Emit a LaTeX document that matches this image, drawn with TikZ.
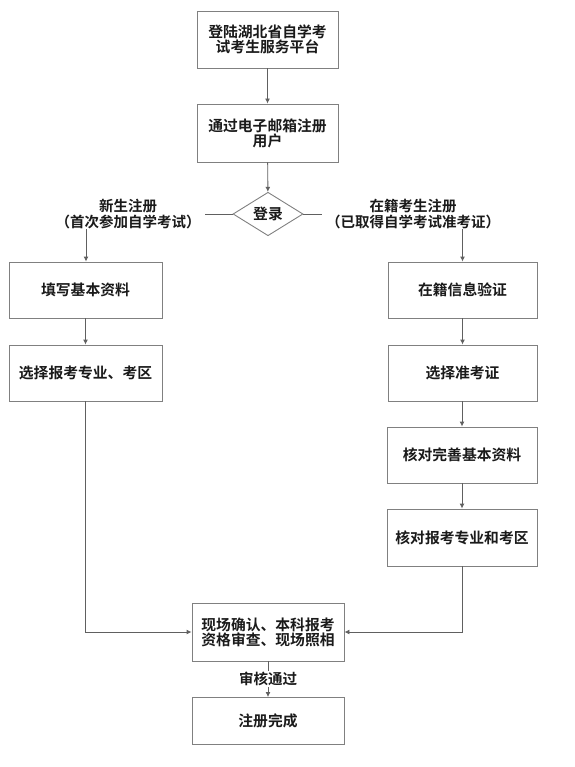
\documentclass[tikz,border=0pt]{standalone}
\usepackage{fontspec}
\newfontfamily\cjk{Noto Sans CJK SC}[BoldFont={Noto Sans CJK SC Bold}]
\usetikzlibrary{arrows.meta,shapes.geometric}
\definecolor{boxline}{HTML}{808080}
\definecolor{arrline}{HTML}{606060}
\definecolor{txt}{HTML}{1A1A1A}
\tikzset{
  stepbox/.style={draw=boxline,line width=0.9pt,rectangle,inner sep=0pt,align=center,
    font=\cjk\bfseries\fontsize{14.8}{15.2}\selectfont,text=txt},
  decide/.style={draw=boxline,line width=0.9pt,diamond,inner sep=0pt,minimum width=70pt,minimum height=42pt,
    font=\cjk\bfseries\fontsize{14.8}{15.2}\selectfont,text=txt},
  lbl/.style={align=center,inner sep=0pt,font=\cjk\bfseries\fontsize{14.5}{16}\selectfont,text=txt},
  arr/.style={draw=arrline,line width=0.9pt,-{Latex[length=5pt,width=5pt]}},
  ln/.style={draw=arrline,line width=0.9pt}
}
\begin{document}
\begin{tikzpicture}[x=1pt,y=-1pt]
\useasboundingbox (0,0) rectangle (574,767);
\node[stepbox,minimum width=141pt,minimum height=57pt] (b1) at (267.5,39.5) {登陆湖北省自学考\\试考生服务平台};
\node[stepbox,minimum width=141pt,minimum height=58pt] (b2) at (267.5,133) {通过电子邮箱注册\\用户};
\node[decide] (dia) at (268,214) {登录};
\node[lbl] (lblL) at (128,214) {新生注册\\（首次参加自学考试）};
\node[lbl] (lblR) at (413,214) {在籍考生注册\\（已取得自学考试准考证）};
\coordinate (lend) at (205,214);
\coordinate (rend) at (322,214);
\coordinate (lstart) at (86,229);
\coordinate (rstart) at (462.5,229);
\node[stepbox,minimum width=153pt,minimum height=56pt] (L1) at (85.5,290) {填写基本资料};
\node[stepbox,minimum width=153pt,minimum height=56pt] (L2) at (85.5,373) {选择报考专业、考区};
\node[stepbox,minimum width=149pt,minimum height=56pt] (R1) at (462.5,290) {在籍信息验证};
\node[stepbox,minimum width=149pt,minimum height=56pt] (R2) at (462.5,373) {选择准考证};
\node[stepbox,minimum width=150pt,minimum height=56pt] (R3) at (462,455) {核对完善基本资料};
\node[stepbox,minimum width=150pt,minimum height=57pt] (R4) at (462,537.5) {核对报考专业和考区};
\node[stepbox,minimum width=152pt,minimum height=58pt] (B1) at (268,632) {现场确认、本科报考\\资格审查、现场照相};
\node[stepbox,minimum width=152pt,minimum height=47pt] (B2) at (268,721) {注册完成};
\draw[arr] (b1) -- (b2);
\draw[arr] (b2) -- (dia);
\draw[ln] (dia.west) -- (lend);
\draw[ln] (dia.east) -- (rend);
\draw[arr] (lstart) -- (L1.north -| lstart);
\draw[arr] (rstart) -- (R1.north -| rstart);
\draw[arr] (L1) -- (L2);
\draw[arr] (R1) -- (R2);
\draw[arr] (R2.south -| R3.north) -- (R3.north);
\draw[arr] (R3) -- (R4);
\draw[arr] (L2.south) |- (B1.west);
\draw[arr] (R4.south) |- (B1.east);
\draw[arr] (B1) -- node[lbl,fill=white,inner sep=1pt] (pass) {审核通过} (B2);
\end{tikzpicture}
\end{document}
